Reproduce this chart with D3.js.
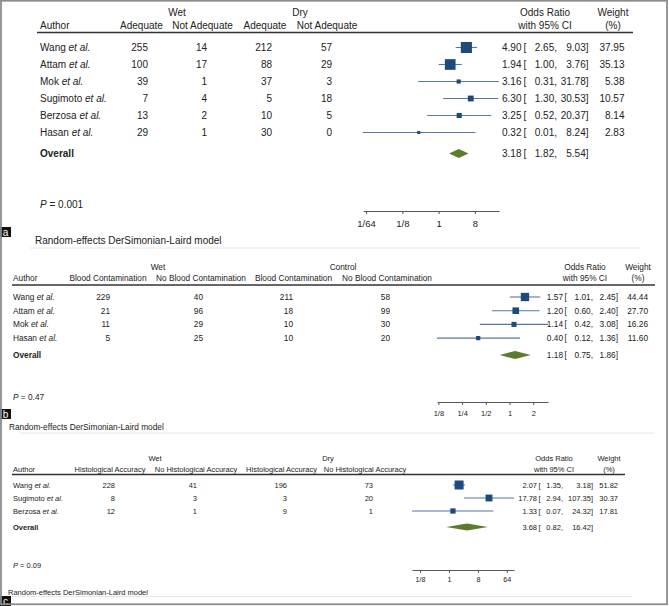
<!DOCTYPE html>
<html><head><meta charset="utf-8">
<script src="https://cdn.jsdelivr.net/npm/d3@7"></script>
<style>html,body{margin:0;padding:0;background:#fff}svg{display:block;font-family:"Liberation Sans",Arial,sans-serif}</style>
</head><body>
<script>
// ---------- Panel a data ----------
const aAuthors = ["Wang","Attam","Mok","Sugimoto","Berzosa","Hasan"];
const aGroups = ["Wet","Dry"];
const aColumns = ["Adequate","Not Adequate","Adequate","Not Adequate"];
const aWetYes = [255,100,39,7,13,29];
const aWetNo = [14,17,1,4,2,1];
const aDryYes = [212,88,37,5,10,30];
const aDryNo = [57,29,3,18,5,0];
const aOR = [4.90,1.94,3.16,6.30,3.25,0.32];
const aLo = [2.65,1.00,0.31,1.30,0.52,0.01];
const aHi = [9.03,3.76,31.78,30.53,20.37,8.24];
const aWeight = [37.95,35.13,5.38,10.57,8.14,2.83];
const aOverall = [3.18,1.82,5.54];
const aTicks = [1/64,1/8,1,8];
const aTickLabels = ["1/64","1/8","1","8"];
const aP = "0.001";

// ---------- Panel b data ----------
const bAuthors = ["Wang","Attam","Mok","Hasan"];
const bGroups = ["Wet","Control"];
const bColumns = ["Blood Contamination","No Blood Contamination","Blood Contamination","No Blood Contamination"];
const bWetYes = [229,21,11,5];
const bWetNo = [40,96,29,25];
const bDryYes = [211,18,10,10];
const bDryNo = [58,99,30,20];
const bOR = [1.57,1.20,1.14,0.40];
const bLo = [1.01,0.60,0.42,0.12];
const bHi = [2.45,2.40,3.08,1.36];
const bWeight = [44.44,27.70,16.26,11.60];
const bOverall = [1.18,0.75,1.86];
const bTicks = [1/8,1/4,1/2,1,2];
const bTickLabels = ["1/8","1/4","1/2","1","2"];
const bP = "0.47";

// ---------- Panel c data ----------
const cAuthors = ["Wang","Sugimoto","Berzosa"];
const cGroups = ["Wet","Dry"];
const cColumns = ["Histological Accuracy","No Histological Accuracy","Histological Accuracy","No Histological Accuracy"];
const cWetYes = [228,8,12];
const cWetNo = [41,3,1];
const cDryYes = [196,3,9];
const cDryNo = [73,20,1];
const cOR = [2.07,17.78,1.33];
const cLo = [1.35,2.94,0.07];
const cHi = [3.18,107.35,24.32];
const cWeight = [51.82,30.37,17.81];
const cOverall = [3.68,0.82,16.42];
const cTicks = [1/8,1,8,64];
const cTickLabels = ["1/8","1","8","64"];
const cP = "0.09";

const modelText = "Random-effects DerSimonian-Laird model";

const W = 669, H = 606;
const svg = d3.select("body").append("svg").attr("width", W).attr("height", H);

const TXT = "#222", BOX = "#1d4a7a", CI = "#5677a6", DIA = "#5a7d2c";
const f2 = d3.format(".2f");

function drawPanel(D, L) {
  const g = svg.append("g");
  const fs = L.font;
  const t = (x, y, s, anchor, size) => g.append("text").attr("x", x).attr("y", y)
      .attr("text-anchor", anchor || "start").attr("font-size", size || fs).attr("fill", TXT).text(s);

  // group headers
  t(L.groupX[0], L.groupY, D.groups[0], "middle");
  t(L.groupX[1], L.groupY, D.groups[1], "middle");
  t(L.orHeadX, L.groupY, "Odds Ratio", "middle");
  t(L.wHeadX, L.groupY, "Weight", "middle");
  // column headers
  t(L.authorX, L.headY, "Author");
  D.columns.forEach((c, i) => t(L.colCenters[i], L.headY, c, "middle"));
  t(L.orHeadX, L.headY, "with 95% CI", "middle");
  t(L.wHeadX, L.headY, "(%)", "middle");
  g.append("line").attr("x1", L.lineX[0]).attr("x2", L.lineX[1])
    .attr("y1", L.lineY).attr("y2", L.lineY).attr("stroke", "#333").attr("stroke-width", 1.4);

  const n = D.authors.length;
  const yScale = d3.scaleLinear().domain([0, 1]).range([L.rowY0, L.rowY0 + L.rowStep]);
  const x = d3.scaleLog().base(2).domain(L.domain).range(L.range).clamp(true);

  const cols = [D.wetYes, D.wetNo, D.dryYes, D.dryNo];
  for (let i = 0; i < n; i++) {
    const y = yScale(i);
    const a = g.append("text").attr("x", L.authorX).attr("y", y).attr("font-size", fs).attr("fill", TXT);
    a.append("tspan").text(D.authors[i] + " ");
    a.append("tspan").attr("font-style", "italic").text("et al.");
    cols.forEach((arr, j) => t(L.numRight[j], y, arr[i], "end"));
    // CI text
    t(L.orRight, y, f2(D.or[i]), "end");
    t(L.brX, y, "[");
    t(L.loRight, y, f2(D.lo[i]) + ",", "end");
    t(L.hiRight, y, f2(D.hi[i]) + "]", "end");
    t(L.wRight, y, f2(D.weight[i]), "end");
    // marks
    const cy = y - L.markOff;
    g.append("line").attr("x1", x(D.lo[i])).attr("x2", x(D.hi[i]))
      .attr("y1", cy).attr("y2", cy).attr("stroke", CI).attr("stroke-width", 1.1);
    const s = L.boxK * Math.sqrt(D.weight[i]);
    g.append("rect").attr("x", x(D.or[i]) - s / 2).attr("y", cy - s / 2)
      .attr("width", s).attr("height", s).attr("fill", BOX);
  }
  // overall
  const oy = L.overallY;
  t(L.authorX, oy, "Overall").attr("font-weight", "bold");
  t(L.orRight, oy, f2(D.overall[0]), "end");
  t(L.brX, oy, "[");
  t(L.loRight, oy, f2(D.overall[1]) + ",", "end");
  t(L.hiRight, oy, f2(D.overall[2]) + "]", "end");
  const dy = oy - L.markOff, hh = L.diaHalf;
  g.append("path").attr("d", `M${x(D.overall[1])},${dy} L${x(D.overall[0])},${dy - hh} L${x(D.overall[2])},${dy} L${x(D.overall[0])},${dy + hh} Z`)
    .attr("fill", DIA);

  // axis
  const axis = d3.axisBottom(x).tickValues(D.ticks).tickFormat((d, i) => D.tickLabels[i]).tickSize(3).tickSizeOuter(0);
  const ag = g.append("g").attr("transform", `translate(0,${L.axisY})`).call(axis);
  ag.select(".domain").attr("stroke", "#555").attr("stroke-width", 1.2);
  ag.selectAll(".tick line").attr("stroke", "#555");
  ag.selectAll(".tick text").attr("font-size", L.tickFont).attr("fill", TXT)
    .attr("font-family", '"Liberation Sans",Arial,sans-serif').attr("dy", null).attr("y", L.tickLabelDy);

  // P value
  const p = g.append("text").attr("x", L.pX).attr("y", L.pY).attr("font-size", fs).attr("fill", TXT);
  p.append("tspan").attr("font-style", "italic").text("P");
  p.append("tspan").text(" = " + D.p);

  // model text
  t(L.modelX, L.modelY, modelText);
  // separator
  g.append("line").attr("x1", L.sepX[0]).attr("x2", L.sepX[1]).attr("y1", L.sepY).attr("y2", L.sepY)
    .attr("stroke", "#e6e6e6").attr("stroke-width", 1);
  // label box
  g.append("rect").attr("x", 0).attr("y", L.labY).attr("width", 11).attr("height", 10).attr("fill", "#111");
  g.append("text").attr("x", 5.5).attr("y", L.labY + 8.5).attr("text-anchor", "middle")
    .attr("font-size", 10).attr("fill", "#fff").text(L.letter);
}

drawPanel(
  {authors: aAuthors, groups: aGroups, columns: aColumns, wetYes: aWetYes, wetNo: aWetNo, dryYes: aDryYes, dryNo: aDryNo,
   or: aOR, lo: aLo, hi: aHi, weight: aWeight, overall: aOverall, ticks: aTicks, tickLabels: aTickLabels, p: aP},
  {font: 10, authorX: 40, groupX: [177, 300], groupY: 15.5, headY: 28.5, lineY: 32.5, lineX: [37, 633],
   colCenters: [141.5, 202.5, 265, 327], numRight: [148, 207, 272, 332],
   orHeadX: 545, wHeadX: 613, rowY0: 51, rowStep: 17, overallY: 157, markOff: 3.5,
   orRight: 521.5, brX: 523.5, loRight: 557, hiRight: 588.5, wRight: 624.5,
   domain: [0.0131, 31.78], range: [363, 499], boxK: 1.8, diaHalf: 4.5,
   axisY: 211, tickFont: 9.5, tickLabelDy: 15.5,
   pX: 40, pY: 208, modelX: 35, modelY: 243.5, sepX: [30, 640], sepY: 248, labY: 227, letter: "a"});

drawPanel(
  {authors: bAuthors, groups: bGroups, columns: bColumns, wetYes: bWetYes, wetNo: bWetNo, dryYes: bDryYes, dryNo: bDryNo,
   or: bOR, lo: bLo, hi: bHi, weight: bWeight, overall: bOverall, ticks: bTicks, tickLabels: bTickLabels, p: bP},
  {font: 8.3, authorX: 13, groupX: [158, 343], groupY: 270, headY: 281, lineY: 285, lineX: [12, 655],
   colCenters: [108, 201, 293.5, 387], numRight: [110, 203, 293, 390],
   orHeadX: 585, wHeadX: 638, rowY0: 300, rowStep: 13.7, overallY: 358, markOff: 3,
   orRight: 563, brX: 564.5, loRight: 593, hiRight: 618, wRight: 648,
   domain: [0.12, 3.08], range: [437, 548], boxK: 1.25, diaHalf: 4,
   axisY: 402, tickFont: 7.5, tickLabelDy: 13.5,
   pX: 13, pY: 400, modelX: 9, modelY: 430, sepX: [20, 655], sepY: 433, labY: 409, letter: "b"});

drawPanel(
  {authors: cAuthors, groups: cGroups, columns: cColumns, wetYes: cWetYes, wetNo: cWetNo, dryYes: cDryYes, dryNo: cDryNo,
   or: cOR, lo: cLo, hi: cHi, weight: cWeight, overall: cOverall, ticks: cTicks, tickLabels: cTickLabels, p: cP},
  {font: 7.5, authorX: 13, groupX: [155, 328], groupY: 461, headY: 472, lineY: 474.5, lineX: [12, 625],
   colCenters: [110, 196, 281.5, 365], numRight: [115, 197, 287, 373],
   orHeadX: 554, wHeadX: 609, rowY0: 488, rowStep: 13, overallY: 530, markOff: 3,
   orRight: 537, brX: 538.5, loRight: 563, hiRight: 593, wRight: 618,
   domain: [0.07, 107.35], range: [412, 514], boxK: 1.25, diaHalf: 3.5,
   axisY: 570, tickFont: 7.2, tickLabelDy: 12,
   pX: 13, pY: 568, modelX: 8, modelY: 595, sepX: [12, 632], sepY: 596.5, labY: 596, letter: "c"});

// outer frame
svg.append("rect").attr("x", 1).attr("y", 0.75).attr("width", 666).attr("height", 603.5)
  .attr("fill", "none").attr("stroke", "#8c8c8c").attr("stroke-width", 1.8);
</script>
</body></html>
